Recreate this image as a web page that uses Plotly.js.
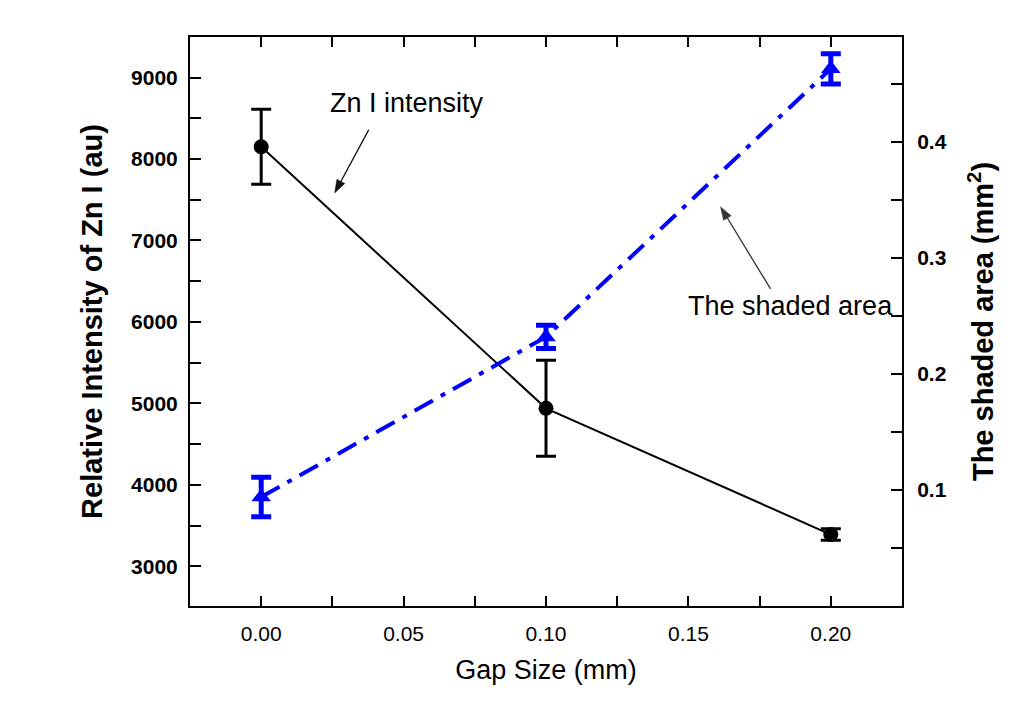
<!DOCTYPE html>
<html>
<head>
<meta charset="utf-8">
<script src="https://cdn.plot.ly/plotly-3.0.1.min.js"></script>
<style>html,body{margin:0;padding:0;background:#fff;}#chart{width:1031px;height:702px;}</style>
</head>
<body>
<div id="chart"></div>
<script>
// Data
const gapSize = [0.0, 0.1, 0.2];
const znIntensity = [8150, 4940, 3390];
const znIntensityErr = [460, 590, 70];
const shadedArea = [0.094, 0.232, 0.463];
const shadedAreaErr = [0.017, 0.010, 0.013];

const FONT = 'Arial, "Liberation Sans", sans-serif';

const traces = [
  {
    x: gapSize, y: znIntensity, type: 'scatter', mode: 'lines+markers',
    name: 'Zn I intensity', yaxis: 'y',
    line: {color: '#000000', width: 2},
    marker: {symbol: 'circle', size: 15, color: '#000000'},
    error_y: {type: 'data', array: znIntensityErr, visible: true, color: '#000000', thickness: 3, width: 10}
  },
  {
    x: gapSize, y: shadedArea, type: 'scatter', mode: 'lines+markers',
    name: 'The shaded area', yaxis: 'y2',
    line: {color: '#0000FF', width: 4, dash: '21px,9px,5px,9px'},
    marker: {symbol: 'triangle-up', size: 17, color: '#0000FF'},
    error_y: {type: 'data', array: shadedAreaErr, visible: true, color: '#0000FF', thickness: 5, width: 10}
  }
];

// arrow helper: pixel-sized shapes anchored at the arrow tip (data coords of left axis)
function arrowShapes(tipX, tipY, dx, dy, color) {
  // dx, dy: tail offset from tip in pixels (screen: dy positive = down)
  const ux = dx / Math.hypot(dx, dy), uy = -dy / Math.hypot(dx, dy);
  const L = 13, W = 4.5;
  const bx = ux * L, by = uy * L;
  const px = -uy, py = ux;
  const common = {xref: 'x', yref: 'y', xsizemode: 'pixel', ysizemode: 'pixel', xanchor: tipX, yanchor: tipY};
  return [
    Object.assign({type: 'line', x0: bx, y0: by, x1: dx, y1: -dy, line: {color: color, width: 1.3}}, common),
    Object.assign({type: 'path', path: `M 0 0 L ${bx + px * W} ${by + py * W} L ${bx - px * W} ${by - py * W} Z`,
      fillcolor: color, line: {color: color, width: 0.5}}, common)
  ];
}

const layout = {
  width: 1031, height: 702,
  paper_bgcolor: '#ffffff', plot_bgcolor: '#ffffff',
  margin: {l: 190, r: 129, t: 37, b: 96},
  showlegend: false,
  font: {family: FONT, color: '#000'},
  xaxis: {
    range: [-0.025, 0.225],
    tickvals: [0, 0.05, 0.1, 0.15, 0.2],
    ticktext: ['0.00', '0.05', '0.10', '0.15', '0.20'],
    ticks: 'inside', ticklen: 10, tickwidth: 2, tickcolor: '#000',
    minor: {dtick: 0.025, tick0: 0, ticks: 'inside', ticklen: 10, tickwidth: 2, tickcolor: '#000'},
    showline: true, linewidth: 2, linecolor: '#000', mirror: 'ticks',
    showgrid: false, zeroline: false,
    tickfont: {family: FONT, size: 21, color: '#000'},
    ticklabelstandoff: 8,
    title: {text: 'Gap Size (mm)', font: {family: FONT, size: 27, color: '#000'}, standoff: 16}
  },
  yaxis: {
    range: [2513, 9498],
    tickvals: [3000, 4000, 5000, 6000, 7000, 8000, 9000],
    ticks: 'inside', ticklen: 11, tickwidth: 2, tickcolor: '#000',
    minor: {dtick: 500, tick0: 0, ticks: 'inside', ticklen: 11, tickwidth: 2, tickcolor: '#000'},
    showline: true, linewidth: 2, linecolor: '#000', mirror: false,
    showgrid: false, zeroline: false,
    tickfont: {family: FONT, size: 21, color: '#000', weight: 'bold'},
    ticklabelstandoff: 6,
    title: {text: 'Relative Intensity of Zn I (au)', font: {family: FONT, size: 29, color: '#000', weight: 'bold'}, standoff: 20}
  },
  yaxis2: {
    overlaying: 'y', side: 'right',
    range: [0.0001, 0.4904],
    tickvals: [0.1, 0.2, 0.3, 0.4],
    ticktext: ['0.1', '0.2', '0.3', '0.4'],
    ticks: 'inside', ticklen: 11, tickwidth: 2, tickcolor: '#000',
    minor: {dtick: 0.05, tick0: 0, ticks: 'inside', ticklen: 11, tickwidth: 2, tickcolor: '#000'},
    showline: true, linewidth: 2, linecolor: '#000',
    showgrid: false, zeroline: false,
    tickfont: {family: FONT, size: 21, color: '#000', weight: 'bold'},
    ticklabelstandoff: 9,
    title: {text: 'The shaded area (mm<sup>2</sup>)', font: {family: FONT, size: 29, color: '#000', weight: 'bold'}, standoff: 27}
  },
  shapes: [].concat(
    arrowShapes(0.0258, 7584, 34, -63, '#111'),
    arrowShapes(0.1613, 7412, 50, 82, '#333')
  ),
  annotations: [
    {xref: 'paper', yref: 'paper', x: (407 - 190) / 712, y: 1 - (103 - 37) / 569,
     text: 'Zn I intensity', showarrow: false, xanchor: 'center', yanchor: 'middle',
     font: {family: FONT, size: 27, color: '#000'}},
    {xref: 'paper', yref: 'paper', x: (790 - 190) / 712, y: 1 - (306 - 37) / 569,
     text: 'The shaded area', showarrow: false, xanchor: 'center', yanchor: 'middle',
     font: {family: FONT, size: 27, color: '#000'}}
  ]
};

Plotly.newPlot('chart', traces, layout, {displayModeBar: false, staticPlot: true});
</script>
</body>
</html>
